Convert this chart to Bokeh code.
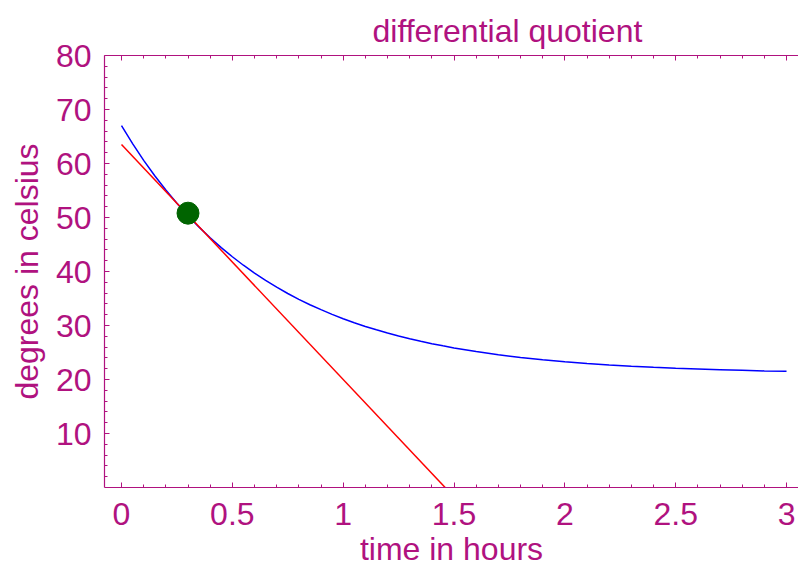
from bokeh.plotting import figure
from bokeh.models import LinearAxis, FixedTicker, Range1d, Title, CustomJSTickFormatter
from bokeh.embed import file_html
from bokeh.resources import INLINE

# ---- data ----
time_h = [0.0, 0.05, 0.1, 0.15, 0.2, 0.25, 0.3, 0.35, 0.4, 0.45, 0.5,
          0.55, 0.6, 0.65, 0.7, 0.75, 0.8, 0.85, 0.9, 0.95, 1.0,
          1.05, 1.1, 1.15, 1.2, 1.25, 1.3, 1.35, 1.4, 1.45, 1.5,
          1.6, 1.7, 1.8, 1.9, 2.0,
          2.1, 2.2, 2.3, 2.4, 2.5, 2.6, 2.7, 2.8, 2.9, 3.0]
temperature = [67.00, 63.68, 60.59, 57.73, 55.08, 52.62, 50.33, 48.21, 46.25, 44.42, 42.73,
               41.16, 39.70, 38.35, 37.10, 35.93, 34.85, 33.85, 32.93, 32.06, 31.26,
               30.52, 29.83, 29.20, 28.60, 28.05, 27.54, 27.07, 26.63, 26.23, 25.85,
               25.17, 24.59, 24.09, 23.66, 23.29,
               22.97, 22.70, 22.46, 22.26, 22.08, 21.93, 21.80, 21.69, 21.59, 21.51]
tangent_t = [0.0, 1.46]
tangent_y = [63.5, 0.0]
point_t = [0.3]
point_y = [50.8]

x_ticks = [0, 0.5, 1, 1.5, 2, 2.5, 3]
x_minor = [0.1, 0.2, 0.3, 0.4, 0.6, 0.7, 0.8, 0.9, 1.1, 1.2, 1.3, 1.4,
           1.6, 1.7, 1.8, 1.9, 2.1, 2.2, 2.3, 2.4, 2.6, 2.7, 2.8, 2.9]
y_ticks = [10, 20, 30, 40, 50, 60, 70, 80]
y_minor = [2, 4, 6, 8, 12, 14, 16, 18, 22, 24, 26, 28, 32, 34, 36, 38,
           42, 44, 46, 48, 52, 54, 56, 58, 62, 64, 66, 68, 72, 74, 76, 78]

title_text = "differential quotient"
x_label = "time in hours"
y_label = "degrees in celsius"

COL = "#B0127F"
FONT = "Liberation Sans"
FS = "32px"

p = figure(frame_width=694, frame_height=432, output_backend="svg", toolbar_location=None,
           title=None, x_axis_type=None, y_axis_type=None,
           x_range=Range1d(-0.0767, 3.054), y_range=Range1d(0, 80),
           min_border_left=104, min_border_right=0, min_border_top=55,
           min_border_bottom=0)
p.outline_line_color = None
p.xgrid.visible = False
p.ygrid.visible = False
p.background_fill_color = "white"
p.border_fill_color = "white"


def style_axis(ax):
    ax.axis_line_color = COL
    ax.axis_line_width = 1.2
    ax.major_tick_line_color = COL
    ax.minor_tick_line_color = COL
    ax.major_tick_in = 5
    ax.major_tick_out = 0
    ax.minor_tick_in = 3
    ax.minor_tick_out = 0
    ax.major_label_text_color = COL
    ax.major_label_text_font = FONT
    ax.major_label_text_font_size = FS
    ax.axis_label_text_color = COL
    ax.axis_label_text_font = FONT
    ax.axis_label_text_font_size = FS
    ax.axis_label_text_font_style = "normal"


xb = LinearAxis(ticker=FixedTicker(ticks=x_ticks, minor_ticks=x_minor), axis_label=x_label)
style_axis(xb)
xb.major_label_standoff = 15
xb.axis_label_standoff = 3
p.add_layout(xb, "below")

yl = LinearAxis(ticker=FixedTicker(ticks=y_ticks, minor_ticks=y_minor), axis_label=y_label)
style_axis(yl)
yl.major_label_standoff = 13
yl.axis_label_standoff = 8
p.add_layout(yl, "left")

xt = LinearAxis(ticker=FixedTicker(ticks=x_ticks, minor_ticks=x_minor),
                formatter=CustomJSTickFormatter(code="return ''"))
style_axis(xt)
xt.major_label_text_font_size = "0px"
xt.major_label_standoff = 0
p.add_layout(xt, "above")

p.add_layout(Title(text=title_text, align="left", offset=268, text_font=FONT,
                   text_font_size=FS, text_color=COL, text_font_style="normal",
                   standoff=13), "above")

p.line(time_h, temperature, line_color="#0000FF", line_width=1.5)
p.line(tangent_t, tangent_y, line_color="#FF0000", line_width=1.5)
p.scatter(point_t, point_y, size=22, fill_color="#006400", line_color="#006400")

open("out.html", "w").write(file_html(p, INLINE))
